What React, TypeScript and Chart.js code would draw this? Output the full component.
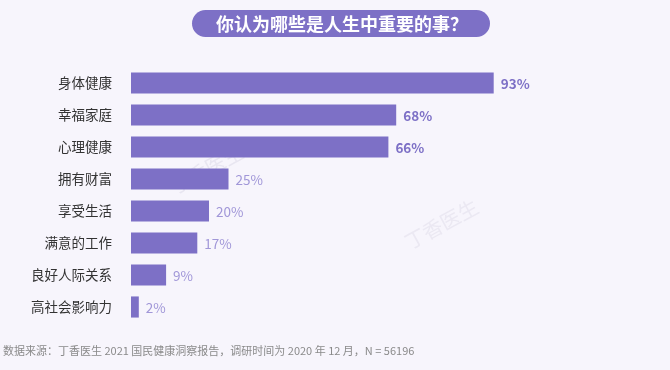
import React, { useEffect, useRef } from "react";
import { Chart, registerables } from "chart.js";

Chart.register(...registerables);

const categories = ["身体健康", "幸福家庭", "心理健康", "拥有财富", "享受生活", "满意的工作", "良好人际关系", "高社会影响力"];
const values = [93, 68, 66, 25, 20, 17, 9, 2];
const valueLabels = ["93%", "68%", "66%", "25%", "20%", "17%", "9%", "2%"];
const highlightCount = 3;
const title = "你认为哪些是人生中重要的事？";
const footnote = "数据来源：丁香医生 2021 国民健康洞察报告，调研时间为 2020 年 12 月，N = 56196";

const FONT = "'Noto Sans CJK SC', 'Noto Sans', sans-serif";
const PURPLE = "#7d70c6";
const LIGHT_PURPLE = "#a197d8";
const BG = "#f7f5fc";

const decorPlugin = {
  id: "decor",
  beforeDraw(chart: any) {
    const { ctx, width, height } = chart;
    ctx.save();
    ctx.fillStyle = BG;
    ctx.fillRect(0, 0, width, height);
    ctx.fillStyle = "rgba(200,196,215,0.3)";
    ctx.font = `20px ${FONT}`;
    ctx.translate(175, 195);
    ctx.rotate(-0.5);
    ctx.fillText("丁香医生", 0, 0);
    ctx.restore();
    ctx.save();
    ctx.fillStyle = "rgba(200,196,215,0.25)";
    ctx.font = `20px ${FONT}`;
    ctx.translate(410, 250);
    ctx.rotate(-0.5);
    ctx.fillText("丁香医生", 0, 0);
    ctx.restore();
  },
  afterDraw(chart: any) {
    const { ctx } = chart;
    ctx.save();
    const x = 192, y = 10, w = 298, h = 27, r = 13.5;
    ctx.fillStyle = PURPLE;
    ctx.beginPath();
    ctx.moveTo(x + r, y);
    ctx.lineTo(x + w - r, y);
    ctx.arc(x + w - r, y + r, r, -Math.PI / 2, Math.PI / 2);
    ctx.lineTo(x + r, y + h);
    ctx.arc(x + r, y + r, r, Math.PI / 2, (3 * Math.PI) / 2);
    ctx.closePath();
    ctx.fill();
    ctx.fillStyle = "#ffffff";
    ctx.font = `bold 18px ${FONT}`;
    ctx.textAlign = "center";
    ctx.textBaseline = "middle";
    ctx.fillText(title, x + w / 2 + 1, y + h / 2 + 1);

    const meta = chart.getDatasetMeta(0);
    meta.data.forEach((bar: any, i: number) => {
      const hi = i < highlightCount;
      ctx.font = `${hi ? "bold " : ""}13.5px ${FONT}`;
      ctx.fillStyle = hi ? PURPLE : LIGHT_PURPLE;
      ctx.textAlign = "left";
      ctx.textBaseline = "middle";
      ctx.fillText(valueLabels[i], bar.x + 7, bar.y + 1);
    });

    ctx.font = `11px ${FONT}`;
    ctx.fillStyle = "#8a8a8a";
    ctx.textAlign = "left";
    ctx.textBaseline = "middle";
    ctx.fillText(footnote, 3, 351);
    ctx.restore();
  },
};

export default function App() {
  const ref = useRef<HTMLCanvasElement | null>(null);
  useEffect(() => {
    if (!ref.current) return;
    const chart = new Chart(ref.current, {
      type: "bar",
      data: {
        labels: categories,
        datasets: [
          {
            data: values,
            backgroundColor: PURPLE,
            borderWidth: 0,
            barPercentage: 0.66,
            categoryPercentage: 1,
          },
        ],
      },
      options: {
        indexAxis: "y",
        animation: false,
        responsive: false,
        maintainAspectRatio: false,
        layout: { padding: { top: 67, bottom: 47, left: 0, right: 149 } },
        plugins: { legend: { display: false }, tooltip: { enabled: false }, title: { display: false } },
        scales: {
          x: { display: false, min: 0, max: 100 },
          y: {
            grid: { display: false, drawTicks: false },
            border: { display: false },
            ticks: { color: "#333333", font: { family: FONT, size: 13.5 }, padding: 19 },
            afterFit: (scale: any) => {
              scale.width = 131;
            },
          },
        },
      },
      plugins: [decorPlugin],
    });
    return () => chart.destroy();
  }, []);
  return (
    <div style={{ position: "fixed", left: 0, top: 0, width: 670, height: 370 }}>
      <canvas ref={ref} width={670} height={370} style={{ width: 670, height: 370 }} />
    </div>
  );
}
